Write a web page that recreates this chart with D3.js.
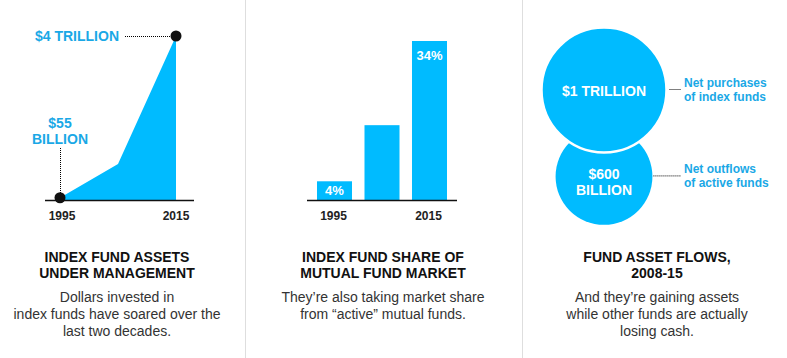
<!DOCTYPE html>
<html><head><meta charset="utf-8">
<script src="https://cdn.jsdelivr.net/npm/d3@7"></script>
<style>
html,body{margin:0;padding:0;background:#fff;}
svg{display:block;font-family:"Liberation Sans",Arial,Helvetica,sans-serif;}
</style></head>
<body><svg id="c" width="787" height="358"></svg>
<script>
// ---- data ----
const aumYears = [1995, 2005, 2015];
const aumValues = [55, 880, 4000];           // billions of dollars
const shareYears = [1995, 2005, 2015];
const shareValues = [4, 16, 34];             // percent
const flowNames = ["Net purchases of index funds", "Net outflows of active funds"];
const flowValues = [1000, 600];              // billions of dollars
const flowLabels = [["$1 TRILLION"], ["$600", "BILLION"]];
const flowNotes = [["Net purchases", "of index funds"], ["Net outflows", "of active funds"]];
const tickLabels = ["1995", "2015"];
const titles = [["INDEX FUND ASSETS", "UNDER MANAGEMENT"], ["INDEX FUND SHARE OF", "MUTUAL FUND MARKET"], ["FUND ASSET FLOWS,", "2008-15"]];
const bodies = [["Dollars invested in", "index funds have soared over the", "last two decades."],
                ["They\u2019re also taking market share", "from \u201cactive\u201d mutual funds."],
                ["And they\u2019re gaining assets", "while other funds are actually", "losing cash."]];

const BLUE = "#00bbff", LBLUE = "#1aa8e6";
const svg = d3.select("#c");

// dividers
[245.5, 522.5].forEach(x => svg.append("line").attr("x1", x).attr("x2", x).attr("y1", 0).attr("y2", 358)
  .attr("stroke", "#dedede").attr("stroke-width", 1));

// ---- panel 1: area ----
const x1 = d3.scaleLinear().domain([1995, 2015]).range([60, 176]);
const y1 = d3.scaleLinear().domain([0, 4000]).range([200, 36]);
const aum = aumYears.map((y, i) => ({year: y, v: aumValues[i]}));
svg.append("path").datum(aum).attr("fill", BLUE)
  .attr("d", d3.area().x(d => x1(d.year)).y0(y1(0)).y1(d => y1(d.v)));
svg.append("line").attr("x1", 45).attr("x2", 194).attr("y1", 200.5).attr("y2", 200.5).attr("stroke", "#111").attr("stroke-width", 1.5);
const first = aum[0], last = aum[aum.length - 1];
// leader lines
svg.append("line").attr("x1", x1(first.year) + 0.5).attr("x2", x1(first.year) + 0.5).attr("y1", 148).attr("y2", y1(first.v) - 4)
  .attr("stroke", "#000").attr("stroke-dasharray", "1,1");
svg.append("line").attr("x1", 125).attr("x2", x1(last.year) - 4).attr("y1", y1(last.v) + 0.5).attr("y2", y1(last.v) + 0.5)
  .attr("stroke", "#000").attr("stroke-dasharray", "1,1");
[first, last].forEach(d => svg.append("circle").attr("cx", x1(d.year)).attr("cy", y1(d.v)).attr("r", 5.5).attr("fill", "#111"));
svg.append("text").attr("x", 35).attr("y", y1(last.v) + 5).attr("fill", LBLUE).attr("font-weight", "bold").attr("font-size", 14).text("$4 TRILLION");
svg.append("text").attr("x", x1(first.year)).attr("text-anchor", "middle").attr("fill", LBLUE).attr("font-weight", "bold").attr("font-size", 14)
  .selectAll("tspan").data(["$55", "BILLION"]).join("tspan").attr("x", x1(first.year)).attr("y", (d, i) => 128 + i * 16).text(d => d);
[aumYears[0], aumYears[aumYears.length - 1]].forEach((yr, i) =>
  svg.append("text").attr("x", x1(yr) + (i === 0 ? 2 : 0)).attr("y", 220).attr("text-anchor", "middle").attr("font-weight", "bold")
    .attr("font-size", 12).attr("fill", "#222").text(tickLabels[i]));

// ---- panel 2: bars ----
const x2 = d3.scaleBand().domain(shareYears).range([317, 447]).paddingInner(0.263).paddingOuter(0);
const y2 = d3.scaleLinear().domain([0, 34]).range([200, 41]);
svg.selectAll(".bar").data(shareYears.map((y, i) => ({year: y, v: shareValues[i]}))).join("rect")
  .attr("x", d => x2(d.year)).attr("width", x2.bandwidth())
  .attr("y", d => y2(d.v)).attr("height", d => y2(0) - y2(d.v)).attr("fill", BLUE);
svg.append("line").attr("x1", 307).attr("x2", 457).attr("y1", 200.5).attr("y2", 200.5).attr("stroke", "#111").attr("stroke-width", 1.5);
const lbl = [{year: shareYears[0], v: shareValues[0], y: y2(shareValues[0]) + 14},
             {year: shareYears[2], v: shareValues[2], y: y2(shareValues[2]) + 19}];
lbl.forEach(d => svg.append("text").attr("x", x2(d.year) + x2.bandwidth() / 2).attr("y", d.y).attr("text-anchor", "middle")
  .attr("fill", "#fff").attr("font-weight", "bold").attr("font-size", 13).text(d.v + "%"));
[shareYears[0], shareYears[2]].forEach((yr, i) =>
  svg.append("text").attr("x", x2(yr) + x2.bandwidth() / 2 - 1).attr("y", 220).attr("text-anchor", "middle").attr("font-weight", "bold")
    .attr("font-size", 12).attr("fill", "#222").text(tickLabels[i]));

// ---- panel 3: circles ----
const r3 = d3.scaleSqrt().domain([0, 1000]).range([0, 62.5]);
const cx3 = 604;
const cyBig = 90;
const cySmall = cyBig + r3(flowValues[0]) + r3(flowValues[1]) - 24.5;
const circ = [{v: flowValues[1], cy: cySmall, i: 1}, {v: flowValues[0], cy: cyBig, i: 0}];
circ.forEach(d => svg.append("circle").attr("cx", cx3).attr("cy", d.cy).attr("r", r3(d.v)).attr("fill", BLUE)
  .attr("stroke", d.i === 0 ? "#fff" : "none").attr("stroke-width", 2.5));
// labels inside
svg.append("text").attr("x", cx3).attr("y", cyBig + 5.5).attr("text-anchor", "middle").attr("fill", "#fff").attr("font-weight", "bold")
  .attr("font-size", 14).text(flowLabels[0][0]);
svg.append("text").attr("text-anchor", "middle").attr("fill", "#fff").attr("font-weight", "bold").attr("font-size", 14)
  .selectAll("tspan").data(flowLabels[1]).join("tspan").attr("x", cx3).attr("y", (d, i) => cySmall + 3 + i * 16).text(d => d);
// leader lines & notes
const notes = [{cy: cyBig, x1: cx3 + r3(flowValues[0]) + 3, lines: flowNotes[0]},
               {cy: cySmall, x1: cx3 + r3(flowValues[1]) + 1, lines: flowNotes[1]}];
notes.forEach(n => {
  svg.append("line").attr("x1", n.x1).attr("x2", 681).attr("y1", n.cy - 0.5).attr("y2", n.cy - 0.5)
    .attr("stroke", "#000").attr("stroke-dasharray", "1,1");
  svg.append("text").attr("fill", LBLUE).attr("font-weight", "bold").attr("font-size", 12)
    .selectAll("tspan").data(n.lines).join("tspan").attr("x", 684).attr("y", (d, i) => n.cy - 3 + i * 14).text(d => d);
});

// ---- titles and bodies ----
const centers = [117, 383, 657];
centers.forEach((cx, k) => {
  svg.append("text").attr("text-anchor", "middle").attr("font-weight", "bold").attr("font-size", 14).attr("fill", "#111")
    .selectAll("tspan").data(titles[k]).join("tspan").attr("x", cx).attr("y", (d, i) => 262 + i * 16).text(d => d);
  svg.append("text").attr("text-anchor", "middle").attr("font-size", 14).attr("fill", "#333")
    .selectAll("tspan").data(bodies[k]).join("tspan").attr("x", cx).attr("y", (d, i) => 302 + i * 17).text(d => d);
});
</script></body></html>
